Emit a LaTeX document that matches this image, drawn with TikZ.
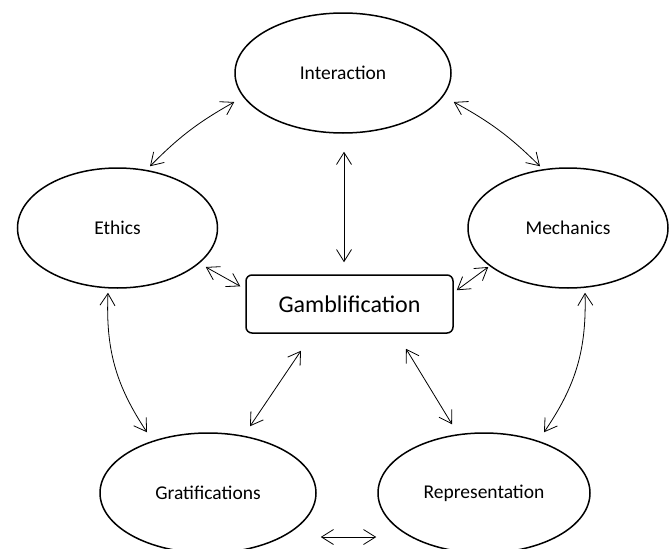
\documentclass[tikz,border=0pt]{standalone}
\usepackage{fontspec}
\setmainfont{Carlito}
\usetikzlibrary{shapes.geometric,arrows.meta}
\tikzset{
  bubble/.style={draw, ellipse, line width=1.5pt, inner sep=0pt, minimum height=120pt,
    font=\fontsize{19.5}{22}\selectfont},
  box/.style={draw, rounded corners=6pt, line width=1.5pt, minimum width=207pt,
    minimum height=58pt, font=\fontsize{24}{28}\selectfont},
  link/.style={<->, line width=0.8pt}
}
\begin{document}
\begin{tikzpicture}[x=1pt,y=-1pt,>={Straight Barb[length=12pt,width=15pt]}]
\clip (0,0) rectangle (670,549);
\node[bubble, minimum width=216pt] (inter) at (343,73) {Interaction};
\node[bubble, minimum width=200pt] (ethics) at (117.5,228) {Ethics};
\node[bubble, minimum width=200pt] (mech) at (568,228) {Mechanics};
\node[bubble, minimum width=216pt] (grat) at (208,493) {Gratifications};
\node[bubble, minimum width=212pt] (repr) at (484,493) {Representation};
\node[box] (gamb) at (349.5,304) {Gamblification};
% outer ring
\draw[link] ([shift={(0,29)}]inter.west) to[bend right=8] ([shift={(32.5,-1)}]ethics.north);
\draw[link] ([shift={(2,29)}]inter.east) to[bend left=8] ([shift={(-28,-1)}]mech.north);
\draw[link] ([shift={(-9.5,4)}]ethics.south) to[bend right=18] ([shift={(-61,0)}]grat.north);
\draw[link] ([shift={(17,4)}]mech.south) to[bend left=18] ([shift={(60,0)}]repr.north);
\draw[link] ([shift={(4,44)}]grat.east) -- ([shift={(-1,44)}]repr.west);
% spokes
\draw[link] ([shift={(1,18)}]inter.south) -- ([shift={(-5.5,-12)}]gamb.north);
\draw[link] ([shift={(-12.5,39)}]ethics.east) -- ([shift={(-5,12)}]gamb.north west);
\draw[link] ([shift={(21,39)}]mech.west) -- ([shift={(3,16)}]gamb.north east);
\draw[link] ([shift={(-48.5,17)}]gamb.south) -- ([shift={(42,-6)}]grat.north);
\draw[link] ([shift={(56.5,15)}]gamb.south) -- ([shift={(-32,-8)}]repr.north);
\end{tikzpicture}
\end{document}
